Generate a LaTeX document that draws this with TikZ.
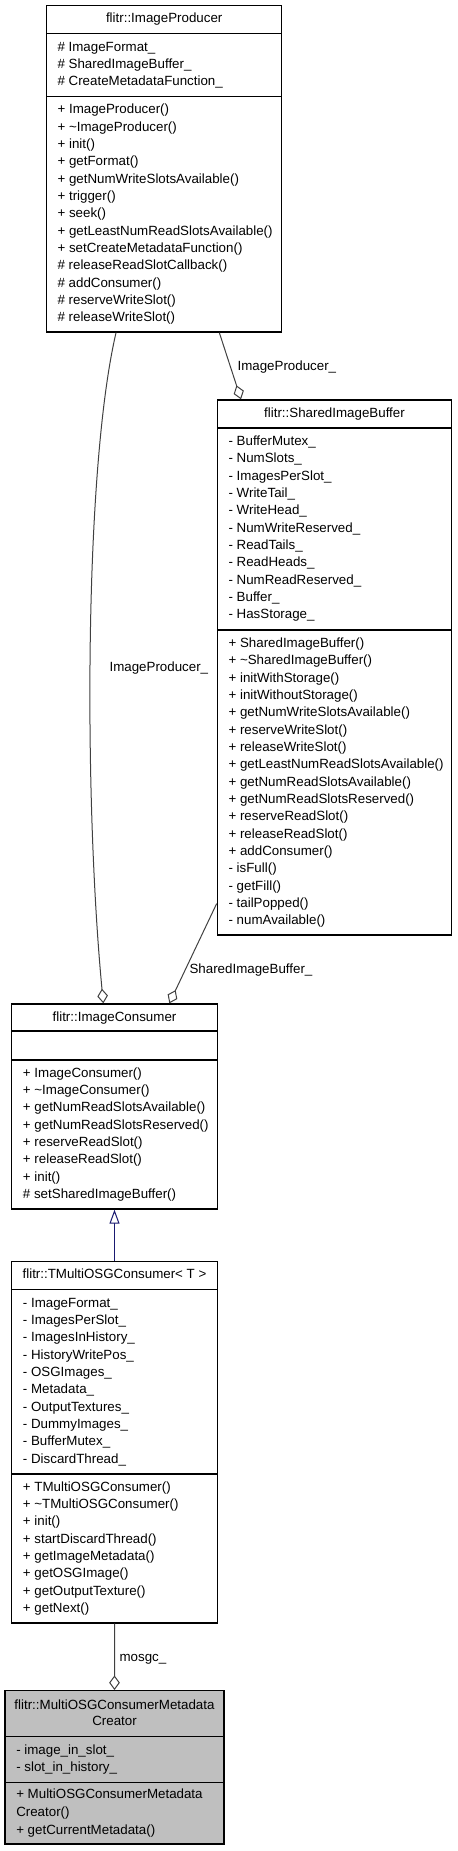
\documentclass[tikz,border=0pt]{standalone}
\usepackage{fontspec}
\setmainfont{Liberation Sans}
\usepackage{tikz}
\usetikzlibrary{arrows.meta,calc,fit}
\definecolor{edgegray}{HTML}{404040}
\definecolor{inhblue}{HTML}{191970}
\definecolor{boxgray}{HTML}{BFBFBF}
\tikzset{classbox/.style={draw=black, line width=1pt, inner sep=0pt},
 divider/.style={line width=1pt},
 member/.style={anchor=base west, inner sep=0pt, yshift=-3.4pt, font=\fontsize{10}{12}\selectfont},
 classtitle/.style={anchor=base, inner sep=0pt, yshift=-3.4pt, font=\fontsize{10}{12}\selectfont},
 edgelabel/.style={member},
 aggr/.style={draw=edgegray, line width=0.75pt, -{Diamond[open, fill=white, length=11pt, width=8pt]}},
 inherit/.style={draw=inhblue, line width=0.75pt, -{Triangle[open, fill=white, length=10.5pt, width=7.5pt]}},
 }

\begin{document}
\begin{tikzpicture}[x=0.75pt, y=-0.75pt]
        \useasboundingbox (0,0) rectangle (457,1851);
        % flitr::ImageProducer
        \node[classbox, fit={(46.7,5.7) (281.7,332)}] (prod) {};
        \draw[divider] (46.7,33.7) -- (281.7,33.7);
        \draw[divider] (46.7,96.7) -- (281.7,96.7);
        \node[classtitle] (prodT) at (164.2,18.3) {flitr::ImageProducer};
        \foreach \m [count=\i from 0] in {\# ImageFormat\_, \# SharedImageBuffer\_, \# CreateMetadataFunction\_}
            \node[member] (prodA\i) at (57.3, 46.7+17.33*\i) {\m};
        \foreach \m [count=\i from 0] in {+ ImageProducer(), + \textasciitilde ImageProducer(), + init(), + getFormat(),
            + getNumWriteSlotsAvailable(), + trigger(), + seek(), + getLeastNumReadSlotsAvailable(),
            + setCreateMetadataFunction(), \# releaseReadSlotCallback(), \# addConsumer(),
            \# reserveWriteSlot(), \# releaseWriteSlot()}
            \node[member] (prodM\i) at (57.3, 109.3+17.33*\i) {\m};
        % flitr::SharedImageBuffer
        \node[classbox, fit={(217.3,400) (451.7,935)}] (sib) {};
        \draw[divider] (217.3,428) -- (451.7,428);
        \draw[divider] (217.3,630) -- (451.7,630);
        \node[classtitle] (sibT) at (334.5,413) {flitr::SharedImageBuffer};
        \foreach \m [count=\i from 0] in {- BufferMutex\_, - NumSlots\_, - ImagesPerSlot\_, - WriteTail\_,
            - WriteHead\_, - NumWriteReserved\_, - ReadTails\_, - ReadHeads\_, - NumReadReserved\_,
            - Buffer\_, - HasStorage\_}
            \node[member] (sibA\i) at (228.3, 441+17.33*\i) {\m};
        \foreach \m [count=\i from 0] in {+ SharedImageBuffer(), + \textasciitilde SharedImageBuffer(),
            + initWithStorage(), + initWithoutStorage(), + getNumWriteSlotsAvailable(),
            + reserveWriteSlot(), + releaseWriteSlot(), + getLeastNumReadSlotsAvailable(),
            + getNumReadSlotsAvailable(), + getNumReadSlotsReserved(), + reserveReadSlot(),
            + releaseReadSlot(), + addConsumer(), - isFull(), - getFill(), - tailPopped(), - numAvailable()}
            \node[member] (sibM\i) at (228.3, 643+17.33*\i) {\m};
        % flitr::ImageConsumer
        \node[classbox, fit={(11.7,1004) (217.3,1209)}] (cons) {};
        \draw[divider] (11.7,1031) -- (217.3,1031);
        \draw[divider] (11.7,1060) -- (217.3,1060);
        \node[classtitle] (consT) at (114.5,1016.7) {flitr::ImageConsumer};
        \foreach \m [count=\i from 0] in {+ ImageConsumer(), + \textasciitilde ImageConsumer(),
            + getNumReadSlotsAvailable(), + getNumReadSlotsReserved(), + reserveReadSlot(),
            + releaseReadSlot(), + init(), \# setSharedImageBuffer()}
            \node[member] (consM\i) at (22.7, 1072.7+17.33*\i) {\m};
        % flitr::TMultiOSGConsumer< T >
        \node[classbox, fit={(11.7,1261.7) (217.3,1623)}] (tmulti) {};
        \draw[divider] (11.7,1289.7) -- (217.3,1289.7);
        \draw[divider] (11.7,1474) -- (217.3,1474);
        \node[classtitle] (tmultiT) at (114.5,1274.3) {flitr::TMultiOSGConsumer< T >};
        \foreach \m [count=\i from 0] in {- ImageFormat\_, - ImagesPerSlot\_, - ImagesInHistory\_,
            - HistoryWritePos\_, - OSGImages\_, - Metadata\_, - OutputTextures\_, - DummyImages\_,
            - BufferMutex\_, - DiscardThread\_}
            \node[member] (tmultiA\i) at (22.7, 1302.7+17.33*\i) {\m};
        \foreach \m [count=\i from 0] in {+ TMultiOSGConsumer(), + \textasciitilde TMultiOSGConsumer(),
            + init(), + startDiscardThread(), + getImageMetadata(), + getOSGImage(),
            + getOutputTexture(), + getNext()}
            \node[member] (tmultiM\i) at (22.7, 1486.7+17.33*\i) {\m};
        % flitr::MultiOSGConsumerMetadataCreator
        \node[classbox, fill=boxgray, fit={(5,1690.7) (224,1844)}] (meta) {};
        \draw[divider] (5,1736.7) -- (224,1736.7);
        \draw[divider] (5,1782.3) -- (224,1782.3);
        \node[classtitle] (metaT1) at (114.5,1705) {flitr::MultiOSGConsumerMetadata};
        \node[classtitle] (metaT2) at (114.5,1721) {Creator};
        \node[member] (metaA0) at (16,1750) {- image\_in\_slot\_};
        \node[member] (metaA1) at (16,1766.7) {- slot\_in\_history\_};
        \node[member] (metaM0) at (16,1794.3) {+ MultiOSGConsumerMetadata};
        \node[member] (metaM1) at (16,1812.3) {Creator()};
        \node[member] (metaM2) at (16,1830) {+ getCurrentMetadata()};
        % connectors
        \draw[aggr] ($(prod.south west)+(70,0)$) .. controls (84,470) and (84,800) .. ($(cons.north west)+(92.3,0)$);
        \node[edgelabel] (lblprodcons) at (109.3,666.7) {ImageProducer\_};
        \draw[aggr] ($(prod.south west)+(173.3,0)$) -- ($(sib.north west)+(24.4,0)$);
        \node[edgelabel] (lblprodsib) at (237.3,365.7) {ImageProducer\_};
        \draw[aggr] ($(sib.south west)+(0,-32)$) -- ($(cons.north west)+(158.3,0)$);
        \node[edgelabel] (lblsibcons) at (189.3,969.3) {SharedImageBuffer\_};
        \draw[inherit] (tmulti.north) -- (cons.south);
        \draw[aggr] (tmulti.south) -- (meta.north);
        \node[edgelabel] (lblmosgc) at (119.3,1657.3) {mosgc\_};
    \end{tikzpicture}
\end{document}
